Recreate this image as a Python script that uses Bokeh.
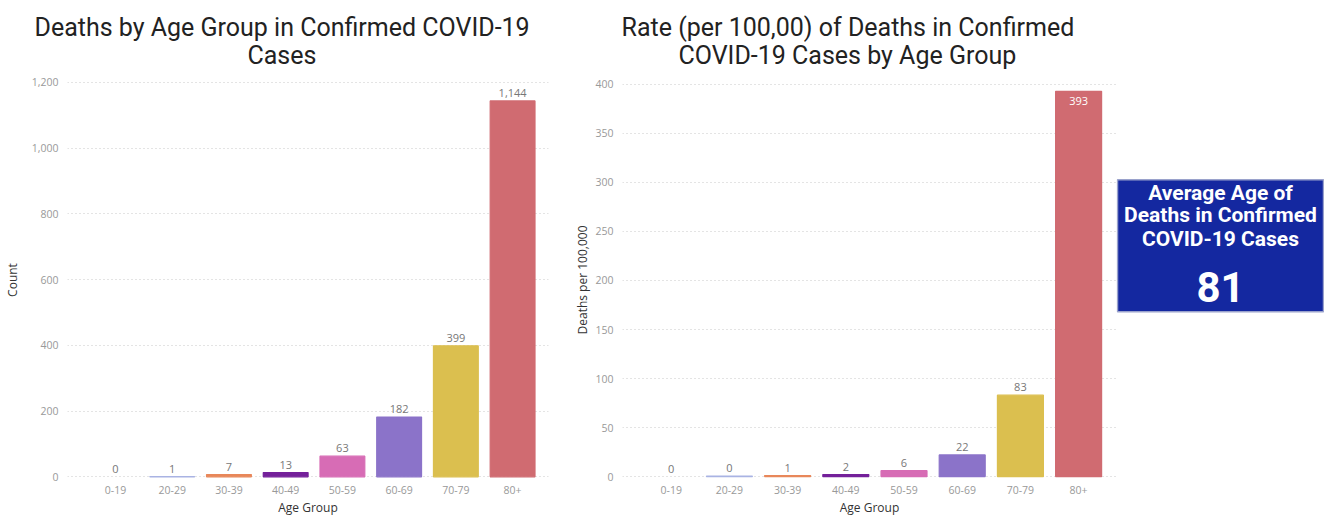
from bokeh.plotting import figure
from bokeh.layouts import row
from bokeh.models import Range1d, FixedTicker, NumeralTickFormatter, ColumnDataSource, Title
from bokeh.core.properties import value
from bokeh.embed import file_html
from bokeh.resources import INLINE

# ---------------- data ----------------
age_groups = ["0-19", "20-29", "30-39", "40-49", "50-59", "60-69", "70-79", "80+"]
deaths_count = [0, 1, 7, 13, 63, 182, 399, 1144]
deaths_rate = [0, 0.4, 1, 2, 6, 22, 83, 393]
bar_colors = ["#8fa0e0", "#a9b3e3", "#e8875a", "#74209a", "#d76cb5", "#8b73c9", "#dbbf4f", "#d06b71"]
count_ticks = [0, 200, 400, 600, 800, 1000, 1200]
rate_ticks = [0, 50, 100, 150, 200, 250, 300, 350, 400]
left_title = ["Deaths by Age Group in Confirmed COVID-19", "Cases"]
right_title = ["Rate (per 100,00) of Deaths in Confirmed", "COVID-19 Cases by Age Group"]
kpi_title_lines = ["Average Age of", "Deaths in Confirmed", "COVID-19 Cases"]
kpi_value = 81

TITLE_FONT = "Roboto"
TICK_FONT = "Open Sans"
H = 518
TOP, BOTTOM = 81, 37


def make_bar_chart(values, ticks, title_lines, title_offsets, ylabel, width, xr, yr, border_left,
                   border_right, ylabel_standoff, inside_last=False):
    p = figure(width=width, height=H, output_backend="svg", toolbar_location=None, title=None,
               x_range=Range1d(*xr), y_range=Range1d(*yr),
               min_border_left=border_left, min_border_right=border_right,
               min_border_top=TOP, min_border_bottom=BOTTOM)
    # two title lines: inner (second line) first, then the outer (first line)
    for line, off, so in zip(reversed(title_lines), reversed(title_offsets), [24, -30]):
        p.add_layout(Title(text=line, align="left", offset=off, standoff=so,
                           text_font=TITLE_FONT, text_font_size="25px", text_font_style="normal",
                           text_color="#222222"), "above")
    p.outline_line_color = None
    p.background_fill_color = "white"
    p.border_fill_color = "white"

    x = list(range(len(age_groups)))
    labels = [f"{round(v):,}" for v in values]
    edge = [c if v > 0 else None for c, v in zip(bar_colors, values)]
    src = ColumnDataSource(dict(x=x, top=values, color=bar_colors, edge=edge, label=labels))
    p.vbar(x="x", top="top", width=0.79, bottom=0, fill_color="color", line_color="edge",
           line_width=1.2, source=src)

    if inside_last:
        out = ColumnDataSource(dict(x=x[:-1], top=values[:-1], label=labels[:-1]))
        ins = ColumnDataSource(dict(x=x[-1:], top=values[-1:], label=labels[-1:]))
        p.text(x="x", y="top", text="label", source=ins, text_align="center", text_baseline="top",
               y_offset=6, text_font=value(TICK_FONT), text_font_size="11px", text_color="white")
    else:
        out = src
    p.text(x="x", y="top", text="label", source=out, text_align="center", text_baseline="bottom",
           y_offset=-4, text_font=value(TICK_FONT), text_font_size="11px", text_color="#777777")

    # axes
    p.xaxis.ticker = FixedTicker(ticks=x)
    p.xaxis.major_label_overrides = {i: g for i, g in enumerate(age_groups)}
    p.yaxis.ticker = FixedTicker(ticks=ticks)
    p.yaxis.formatter = NumeralTickFormatter(format="0,0")
    for ax in (p.xaxis, p.yaxis):
        ax.axis_line_color = None
        ax.major_tick_line_color = None
        ax.minor_tick_line_color = None
        ax.major_tick_out = 0
        ax.major_tick_in = 0
        ax.minor_tick_out = 0
        ax.minor_tick_in = 0
        ax.major_label_text_font = TICK_FONT
        ax.major_label_text_font_size = "10.5px"
        ax.major_label_text_color = "#999999"
        ax.axis_label_text_font = TICK_FONT
        ax.axis_label_text_font_style = "normal"
        ax.axis_label_text_font_size = "12px"
        ax.axis_label_text_color = "#333333"
    p.xaxis.axis_label = "Age Group"
    p.yaxis.axis_label = ylabel
    p.xaxis.major_label_standoff = 7
    p.xaxis.axis_label_standoff = 2
    p.yaxis.major_label_standoff = 9
    p.yaxis.axis_label_standoff = ylabel_standoff

    p.xgrid.grid_line_color = None
    p.ygrid.grid_line_color = "#c8c8c8"
    p.ygrid.grid_line_dash = "1 3"
    p.ygrid.grid_line_width = 1
    return p


p1 = make_bar_chart(deaths_count, count_ticks, left_title, [-33, 180], "Count", 564,
                    (-0.846, 7.633), (-5, 1203), 63, 16, 8)
p2 = make_bar_chart(deaths_rate, rate_ticks, right_title, [-1, 56], "Deaths per 100,000", 552,
                    (-0.837, 7.651), (-2, 403), 58, 0, 1, inside_last=True)

# KPI card (its frame is aligned with the charts' frames; data y == page y)
W3 = 208
p3 = figure(width=W3, height=H, output_backend="svg", toolbar_location=None, title=None,
            x_axis_location=None, y_axis_location=None,
            x_range=Range1d(0, W3), y_range=Range1d(H - BOTTOM, TOP),
            min_border_left=0, min_border_right=0, min_border_top=TOP, min_border_bottom=BOTTOM)
p3.grid.visible = False
p3.outline_line_color = None
p3.quad(left=[1], right=[207], top=[180], bottom=[313], fill_color="#1428a0", line_color="#9aa2cc",
        line_width=1.5)
p3.text(x=[104] * 3, y=[193, 216, 240], text=kpi_title_lines, text_align="center",
        text_baseline="middle", text_font=value(TITLE_FONT), text_font_style="bold",
        text_font_size="21px", text_color="white")
p3.text(x=[104], y=[288], text=[str(kpi_value)], text_align="center", text_baseline="middle",
        text_font=value(TITLE_FONT), text_font_style="bold", text_font_size="42px", text_color="white")

layout = row(p1, p2, p3)
open("out.html", "w").write(file_html(layout, INLINE))
